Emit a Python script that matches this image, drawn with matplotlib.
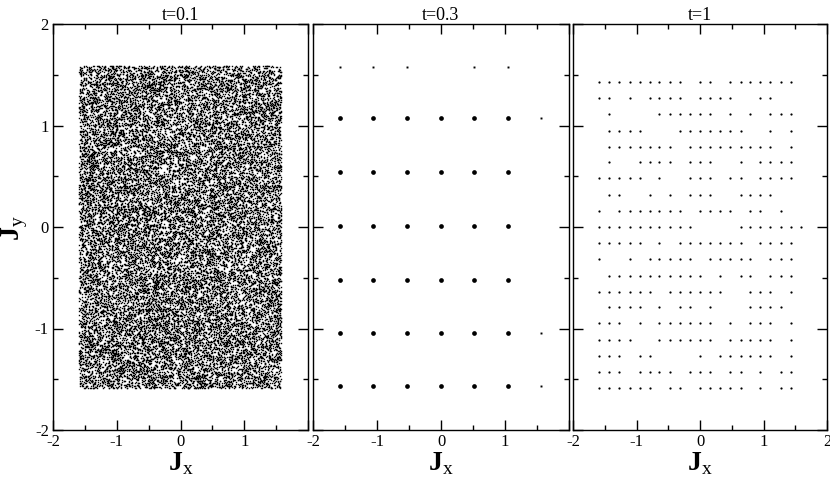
import numpy as np
import matplotlib
matplotlib.use("Agg")
import matplotlib.pyplot as plt
from matplotlib.ticker import MultipleLocator

plt.rcParams['font.family'] = ['Liberation Serif', 'DejaVu Serif']
plt.rcParams['mathtext.fontset'] = 'custom'
plt.rcParams['mathtext.rm'] = 'Liberation Serif'
plt.rcParams['mathtext.bf'] = 'Liberation Serif:bold'

titles = ["t=0.1", "t=0.3", "t=1"]

# t=0.1 : chaotic sea filling the box
sea_x = [-1.59, 1.58]
sea_y = [-1.59, 1.59]

# t=0.3 : clusters on a coarse grid
grid2_x = [-1.58, -1.06, -0.53, 0.0, 0.52, 1.05, 1.56]
grid2_y = [1.58, 1.07, 0.54, 0.01, -0.52, -1.04, -1.57]
# clusters: (column, row) indices into grid2
clusters_col = [0, 1, 2, 3, 4, 5] * 6
clusters_row = [1] * 6 + [2] * 6 + [3] * 6 + [4] * 6 + [5] * 6 + [6] * 6
# isolated single points
single_col = [0, 1, 2, 4, 5, 6, 6, 6]
single_row = [0, 0, 0, 0, 0, 1, 5, 6]

# t=1 : dots on a fine grid (column indices present in each row, top to bottom)
grid3 = [-1.59, -1.43, -1.27, -1.11, -0.95, -0.79, -0.64, -0.48, -0.32, -0.16, 0.0,
         0.16, 0.32, 0.48, 0.64, 0.79, 0.95, 1.11, 1.27, 1.43, 1.59]
rows3_y = [1.43, 1.27, 1.11, 0.95, 0.79, 0.64, 0.48, 0.32, 0.16, 0.0,
           -0.16, -0.32, -0.48, -0.64, -0.79, -0.95, -1.11, -1.27, -1.43, -1.59]
rows3_k = [
    [-10, -9, -8, -7, -6, -5, -4, -3, -2, 0, 1, 3, 4, 5, 6, 7, 8, 9],
    [-10, -9, -7, -5, -4, -3, -2, 0, 1, 2, 3, 6, 7],
    [-9, -4, -3, -2, -1, 0, 1, 3, 5, 7, 8, 9],
    [-9, -8, -7, -6, -2, -1, 0, 1, 2, 3, 4, 7, 9],
    [-9, -8, -7, -6, -5, -4, -3, -1, 0, 1, 2, 3, 4, 5, 6, 7, 9],
    [-9, -6, -5, -4, -3, -1, 0, 1, 4, 6, 7, 8, 9],
    [-10, -9, -8, -7, -6, -4, -1, 0, 1, 3, 4, 6, 7, 8, 9],
    [-9, -8, -5, -3, -1, 0, 1, 4, 5, 6, 7],
    [-10, -8, -7, -6, -5, -4, -3, -2, 0, 1, 2, 3, 5, 6, 8],
    [-10, -9, -8, -7, -6, -5, -4, -3, -2, -1, 4, 5, 6, 7, 8, 9, 10],
    [-10, -9, -8, -7, -6, -4, -2, -1, 0, 1, 2, 3, 4, 6, 7, 8, 9],
    [-10, -7, -5, -4, -3, -2, -1, 1, 2, 3, 4, 5, 7, 8, 9],
    [-9, -8, -7, -6, -5, -4, -3, -2, -1, 0, 2, 4, 5, 7, 8, 9],
    [-10, -9, -8, -7, -6, -5, -3, -2, -1, 0, 1, 2, 5, 6, 7, 9],
    [-9, -8, -7, -6, -4, -2, -1, 1, 5, 6, 7, 8],
    [-10, -9, -8, -6, -4, -3, -2, -1, 0, 1, 3, 5, 6, 7, 9],
    [-10, -9, -8, -7, -4, -3, -2, -1, 0, 1, 3, 4, 5, 6, 7, 9],
    [-10, -9, -8, -6, -5, 0, 2, 3, 4, 5, 6, 7, 9],
    [-10, -9, -8, -6, -5, -4, -3, -1, 0, 1, 3, 4, 6, 8, 9],
    [-10, -9, -8, -7, -6, -5, -3, -2, 0, 1, 2, 3, 4, 6, 8, 9],
]

# chaotic sea: iterate a strongly kicked standard map (deterministic),
# dropping the first kicks so the starting line is forgotten
n_traj, n_skip, n_keep, K = 1000, 12, 24, 23.3
th = np.linspace(0.1, 2 * np.pi - 0.1, n_traj)
pp = np.linspace(0.37, 5.9, n_traj)[::-1]
sx, sy = [], []
for i in range(n_skip + n_keep):
    pp = np.mod(pp + K * np.sin(th), 2 * np.pi)
    th = np.mod(th + pp, 2 * np.pi)
    if i >= n_skip:
        sx.append(th.copy())
        sy.append(pp.copy())
sx = np.concatenate(sx) / (2 * np.pi)
sy = np.concatenate(sy) / (2 * np.pi)
sea_px = sea_x[0] + (sea_x[1] - sea_x[0]) * sx
sea_py = sea_y[0] + (sea_y[1] - sea_y[0]) * sy

W, H = 830, 483
fig = plt.figure(figsize=(W / 100, H / 100), dpi=100)
lefts = [53, 313, 573]
rights = [308, 569, 827]
top, bottom = 24, 430
axes = []
for i in range(3):
    ax = fig.add_axes([lefts[i] / W, 1 - bottom / H, (rights[i] - lefts[i]) / W, (bottom - top) / H])
    axes.append(ax)

axes[0].plot(sea_px, sea_py, 's', ms=1.0, mfc='black', mec='none', mew=0)

cx = [grid2_x[c] for c in clusters_col]
cy = [grid2_y[r] for r in clusters_row]
axes[1].plot(cx, cy, 'o', ms=3.4, mfc='black', mec='black', mew=0)
ox = [grid2_x[c] for c in single_col]
oy = [grid2_y[r] for r in single_row]
axes[1].plot(ox, oy, 's', ms=1.4, mfc='black', mec='black', mew=0)

dx, dy = [], []
for y, ks in zip(rows3_y, rows3_k):
    for k in ks:
        dx.append(grid3[k + 10])
        dy.append(y)
axes[2].plot(dx, dy, 'o', ms=1.6, mfc='black', mec='black', mew=0)

for i, ax in enumerate(axes):
    ax.set_xlim(-2, 2)
    ax.set_ylim(-2, 2)
    ax.xaxis.set_major_locator(MultipleLocator(1))
    ax.xaxis.set_minor_locator(MultipleLocator(0.5))
    ax.yaxis.set_major_locator(MultipleLocator(1))
    ax.yaxis.set_minor_locator(MultipleLocator(0.5))
    ax.tick_params(which='both', direction='in', top=True, right=True, width=1.0, labelsize=12, pad=3)
    ax.tick_params(which='major', length=7)
    ax.tick_params(which='minor', length=3.5)
    for s in ax.spines.values():
        s.set_linewidth(1.0)
    ax.set_title(titles[i], fontsize=13, pad=3)
    ax.set_xlabel(r'$\mathbf{J}_{\mathrm{x}}$', fontsize=20, labelpad=0)
    if i < 2:
        ax.set_xticks([-2, -1, 0, 1, 2])
        ax.set_xticklabels(['-2', '-1', '0', '1', ''])
    else:
        ax.set_xticks([-2, -1, 0, 1, 2])
        ax.set_xticklabels(['-2', '-1', '0', '1', '2'])
    if i == 0:
        ax.set_yticks([-2, -1, 0, 1, 2])
        ax.set_yticklabels(['-2', '-1', '0', '1', '2'])
    else:
        ax.tick_params(labelleft=False)

fig.text(15 / W, 1 - 228 / H, r'$\mathbf{J}_{\mathrm{y}}$', fontsize=20, rotation=90,
         ha='center', va='center')

fig.savefig('out.png', dpi=100)
